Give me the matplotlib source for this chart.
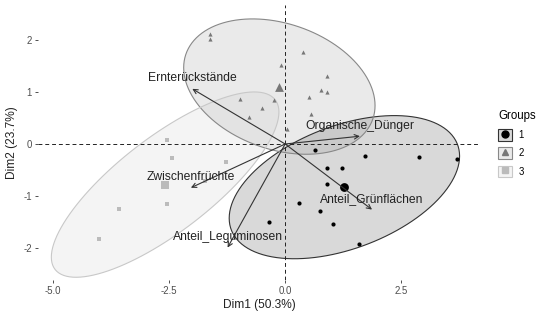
import numpy as np
import matplotlib
matplotlib.use('Agg')
import matplotlib.pyplot as plt
from matplotlib.patches import Polygon, Rectangle
from matplotlib.lines import Line2D
from matplotlib.legend_handler import HandlerTuple

plt.rcParams['font.family'] = ['Liberation Sans', 'DejaVu Sans']

# PCA Individuen, Gruppe 1/2/3
g1_x = [0.64, 1.72, 2.89, 3.71, 0.91, 1.22, 0.89, 0.29, 0.75, 1.03, 1.59, -0.34]
g1_y = [-0.12, -0.23, -0.25, -0.29, -0.47, -0.46, -0.76, -1.13, -1.28, -1.53, -1.93, -1.50]
g2_x = [-1.62, -1.62, 0.39, -0.08, 0.89, 0.78, 0.90, 0.52, -0.98, -0.25, -0.49, 0.55, -0.77, 0.03]
g2_y = [2.12, 2.02, 1.76, 1.51, 1.31, 1.03, 1.00, 0.91, 0.87, 0.84, 0.69, 0.58, 0.52, 0.28]
g3_x = [-2.55, -2.43, -1.27, -2.54, -3.58, -4.00, -1.72]
g3_y = [0.07, -0.26, -0.34, -1.15, -1.24, -1.83, -0.71]

# Ellipsen: halbe Ausdehnung in x / y und Kopplung
ell_sx = [2.48, 2.06, 2.45]
ell_sy = [1.375, 1.30, 1.78]
ell_rho = [0.434, -0.28, 0.783]

# Variablen (Pfeile)
var_names = ['Ernterückstände', 'Organische_Dünger', 'Anteil_Grünflächen',
             'Anteil_Leguminosen', 'Zwischenfrüchte']
var_x = [-2.00, 1.61, 1.87, -1.24, -2.03]
var_y = [1.06, 0.15, -1.26, -1.99, -0.84]

group_labels = ['1', '2', '3']
x_ticks = [-5.0, -2.5, 0.0, 2.5]
y_ticks = [-2, -1, 0, 1, 2]

colors = ['#000000', '#777777', '#BBBBBB']
edge_colors = ['#333333', '#888888', '#C8C8C8']
markers = ['o', '^', 's']


def ellipse_pts(cx, cy, sx, sy, rho, segments=121):
    cov = np.array([[sx * sx, rho * sx * sy], [rho * sx * sy, sy * sy]])
    L = np.linalg.cholesky(cov)
    t = np.linspace(0, 2 * np.pi, segments)
    unit = np.column_stack([np.cos(t), np.sin(t)])
    return np.array([cx, cy]) + unit @ L.T


fig = plt.figure(figsize=(5.36, 3.13), dpi=100)
ax = fig.add_axes([0.071, 0.105, 0.825, 0.879])

groups = [(g1_x, g1_y), (g2_x, g2_y), (g3_x, g3_y)]
for i, (gx, gy) in enumerate(groups):
    pts = ellipse_pts(np.mean(gx), np.mean(gy), ell_sx[i], ell_sy[i], ell_rho[i])
    ax.add_patch(Polygon(pts, closed=True, facecolor=colors[i], alpha=0.15,
                         edgecolor='none', zorder=1))
    ax.add_patch(Polygon(pts, closed=True, facecolor='none',
                         edgecolor=edge_colors[i], lw=0.8, zorder=2))

ax.axhline(0, color='#222222', lw=0.7, ls=(0, (4, 3)), zorder=2)
ax.axvline(0, color='#222222', lw=0.7, ls=(0, (4, 3)), zorder=2)

for i, (gx, gy) in enumerate(groups):
    ax.scatter(gx, gy, s=9, marker=markers[i], color=colors[i], lw=0, zorder=3)
    ax.scatter([np.mean(gx)], [np.mean(gy)], s=40, marker=markers[i],
               color=colors[i], lw=0, zorder=3)

for name, vx, vy in zip(var_names, var_x, var_y):
    ax.annotate('', xy=(vx, vy), xytext=(0, 0),
                arrowprops=dict(arrowstyle='->', color='#333333', lw=0.8,
                                shrinkA=0, shrinkB=0, mutation_scale=8), zorder=4)
    ax.annotate(name, xy=(vx, vy), xytext=(0, 7.5), textcoords='offset points',
                ha='center', va='center', fontsize=8.7, color='#222222', zorder=5)

ax.set_xlim(-5.32, 4.20)
ax.set_ylim(-2.615, 2.67)
ax.set_xticks(x_ticks)
ax.set_xticklabels(['%.1f' % v for v in x_ticks])
ax.set_yticks(y_ticks)
ax.set_yticklabels([str(v) for v in y_ticks])
ax.tick_params(length=2.5, width=0.6, color='#333333', labelsize=6.9,
               labelcolor='#4D4D4D', pad=2)
for s in ax.spines.values():
    s.set_visible(False)
ax.set_xlabel('Dim1 (50.3%)', fontsize=8.6, color='#222222', labelpad=2)
ax.set_ylabel('Dim2 (23.7%)', fontsize=8.6, color='#222222', labelpad=4)

# Legende: Kasten mit Ellipsenfarbe + Symbol
handles = []
for i in range(3):
    box = Rectangle((0, 0), 1, 1, facecolor=colors[i], alpha=0.15, edgecolor='none')
    edge = Rectangle((0, 0), 1, 1, facecolor='none', edgecolor=edge_colors[i], lw=0.8)
    mk = Line2D([], [], marker=markers[i], color=colors[i], ls='none', markersize=5)
    handles.append((box, edge, mk))
leg = fig.legend(handles, group_labels, title='Groups', loc='upper left',
                 bbox_to_anchor=(0.922, 0.66), frameon=False, fontsize=6.9,
                 title_fontsize=8.3, handlelength=1.45, handleheight=1.45,
                 handletextpad=0.7, labelspacing=0.72, borderaxespad=0,
                 handler_map={tuple: HandlerTuple(ndivide=1, pad=0)})
leg._legend_box.align = 'left'

fig.savefig('out.png', dpi=100)
